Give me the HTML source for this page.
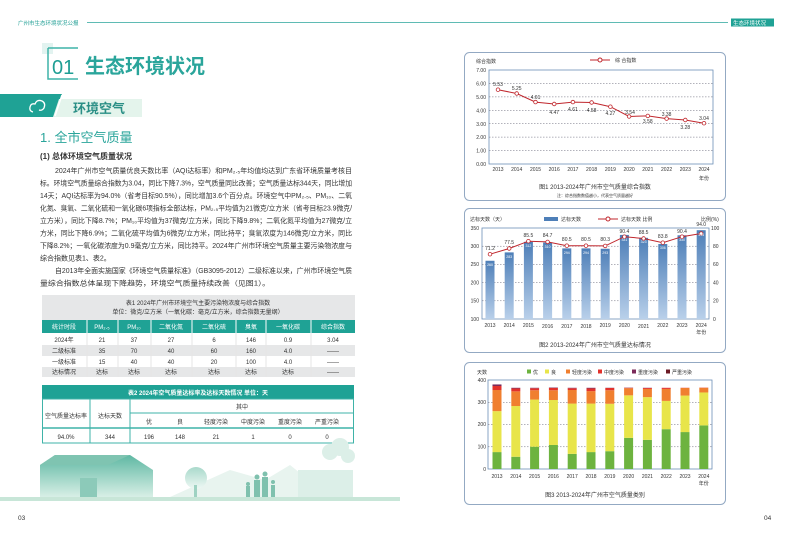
<!DOCTYPE html>
<html><head><meta charset="utf-8">
<style>
html,body{margin:0;padding:0;background:#fff;}
svg{display:block;font-family:"Liberation Sans","Noto Sans CJK SC",sans-serif;}
</style></head><body>
<svg id="s" width="793" height="538" viewBox="0 0 793 538" xmlns="http://www.w3.org/2000/svg">
<!-- header -->
<text x="18" y="25" font-size="5.5" fill="#1f9e94">广州市生态环境状况公报</text>
<line x1="87" y1="22.5" x2="728" y2="22.5" stroke="#2aa59b" stroke-width="0.8"/>
<rect x="731" y="18.5" width="43" height="8" fill="#1fa295"/>
<text x="733" y="25" font-size="5.5" fill="#fff">生态环境状况</text>

<!-- title -->
<rect x="42" y="43" width="11" height="11" fill="#e2f3f0"/>
<path d="M48 48 H78 M48 48 V79 H78" stroke="#3fb3a8" stroke-width="1.5" fill="none"/>
<text x="52" y="74" font-size="20" fill="#1f9e94">01</text>
<text x="85" y="73" font-size="20" font-weight="bold" fill="#2aa59b">生态环境状况</text>

<!-- banner -->
<polygon points="0,94 62,94 55,117 0,117" fill="#1fa295"/>
<polygon points="59,99 142,99 142,117 53,117" fill="#e4f4ec"/>
<line x1="62" y1="95" x2="55" y2="116" stroke="#fff" stroke-width="1.5"/>
<path d="M33 112 q-4 -1 -3 -5 q1 -4 5 -3 q2 -5 7 -3 q4 2 2 7 q-2 3 -5 2" stroke="#fff" stroke-width="1.3" fill="none"/>
<text x="73" y="113" font-size="13" font-weight="bold" fill="#2b8f86">环境空气</text>

<text x="40" y="142" font-size="13" fill="#2aa59b">1. 全市空气质量</text>
<text x="40" y="159" font-size="8" font-weight="bold" fill="#333">(1) 总体环境空气质量状况</text>

<g font-size="7" fill="#333">
<text x="55" y="173" textLength="297" lengthAdjust="spacingAndGlyphs">2024年广州市空气质量优良天数比率（AQI达标率）和PM₂.₅年均值均达到广东省环境质量考核目</text>
<text x="40" y="185.5" textLength="312" lengthAdjust="spacingAndGlyphs">标。环境空气质量综合指数为3.04，同比下降7.3%，空气质量同比改善；空气质量达标344天，同比增加</text>
<text x="40" y="198" textLength="312" lengthAdjust="spacingAndGlyphs">14天；AQI达标率为94.0%（省考目标90.5%），同比增加3.6个百分点。环境空气中PM₂.₅、PM₁₀、二氧</text>
<text x="40" y="210.5" textLength="312" lengthAdjust="spacingAndGlyphs">化氮、臭氧、二氧化硫和一氧化碳6项指标全部达标，PM₂.₅平均值为21微克/立方米（省考目标23.9微克/</text>
<text x="40" y="223" textLength="312" lengthAdjust="spacingAndGlyphs">立方米），同比下降8.7%；PM₁₀平均值为37微克/立方米，同比下降9.8%；二氧化氮平均值为27微克/立</text>
<text x="40" y="235.5" textLength="312" lengthAdjust="spacingAndGlyphs">方米，同比下降6.9%；二氧化硫平均值为6微克/立方米，同比持平；臭氧浓度为146微克/立方米，同比</text>
<text x="40" y="248" textLength="312" lengthAdjust="spacingAndGlyphs">下降8.2%；一氧化碳浓度为0.9毫克/立方米，同比持平。2024年广州市环境空气质量主要污染物浓度与</text>
<text x="40" y="260.5">综合指数见表1、表2。</text>
<text x="55" y="273" textLength="297" lengthAdjust="spacingAndGlyphs">自2013年全面实施国家《环境空气质量标准》（GB3095-2012）二级标准以来，广州市环境空气质</text>
<text x="40" y="285.5" textLength="230" lengthAdjust="spacingAndGlyphs">量综合指数总体呈现下降趋势，环境空气质量持续改善（见图1）。</text>
</g>

<!-- table 1 -->
<rect x="42" y="295" width="313" height="25" fill="#e6e7e8"/>
<text x="198" y="305" font-size="6" fill="#333" text-anchor="middle">表1  2024年广州市环境空气主要污染物浓度与综合指数</text>
<text x="198" y="314" font-size="6" fill="#333" text-anchor="middle">单位：微克/立方米（一氧化碳：毫克/立方米，综合指数无量纲）</text>
<rect x="42" y="320" width="313" height="13" fill="#1fa295"/>
<rect x="42" y="345" width="313" height="11" fill="#e6e7e8"/>
<rect x="42" y="367" width="313" height="10" fill="#e6e7e8"/>
<g stroke="#fff" stroke-width="1">
<line x1="87" y1="320" x2="87" y2="377"/><line x1="118" y1="320" x2="118" y2="377"/><line x1="151" y1="320" x2="151" y2="377"/><line x1="192" y1="320" x2="192" y2="377"/><line x1="236" y1="320" x2="236" y2="377"/><line x1="266" y1="320" x2="266" y2="377"/><line x1="311" y1="320" x2="311" y2="377"/>
</g>
<g stroke="#ccc" stroke-width="0.5"><line x1="87" y1="333" x2="87" y2="377"/><line x1="118" y1="333" x2="118" y2="377"/><line x1="151" y1="333" x2="151" y2="377"/><line x1="192" y1="333" x2="192" y2="377"/><line x1="236" y1="333" x2="236" y2="377"/><line x1="266" y1="333" x2="266" y2="377"/><line x1="311" y1="333" x2="311" y2="377"/></g>
<g font-size="6" text-anchor="middle" fill="#fff">
<text x="64" y="329">统计时段</text><text x="102" y="329">PM₂.₅</text><text x="134" y="329">PM₁₀</text><text x="171" y="329">二氧化氮</text><text x="214" y="329">二氧化硫</text><text x="251" y="329">臭氧</text><text x="288" y="329">一氧化碳</text><text x="333" y="329">综合指数</text>
</g>
<g font-size="6" text-anchor="middle" fill="#333">
<text x="64" y="342">2024年</text><text x="102" y="342">21</text><text x="134" y="342">37</text><text x="171" y="342">27</text><text x="214" y="342">6</text><text x="251" y="342">146</text><text x="288" y="342">0.9</text><text x="333" y="342">3.04</text>
<text x="64" y="353">二级标准</text><text x="102" y="353">35</text><text x="134" y="353">70</text><text x="171" y="353">40</text><text x="214" y="353">60</text><text x="251" y="353">160</text><text x="288" y="353">4.0</text><text x="333" y="353">——</text>
<text x="64" y="364">一级标准</text><text x="102" y="364">15</text><text x="134" y="364">40</text><text x="171" y="364">40</text><text x="214" y="364">20</text><text x="251" y="364">100</text><text x="288" y="364">4.0</text><text x="333" y="364">——</text>
<text x="64" y="374">达标情况</text><text x="102" y="374">达标</text><text x="134" y="374">达标</text><text x="171" y="374">达标</text><text x="214" y="374">达标</text><text x="251" y="374">达标</text><text x="288" y="374">达标</text><text x="333" y="374">——</text>
</g>

<!-- table 2 -->
<rect x="42" y="385" width="312" height="14" fill="#1fa295"/>
<text x="198" y="395" font-size="6" fill="#fff" text-anchor="middle" font-weight="bold">表2    2024年空气质量达标率及达标天数情况          单位：天</text>
<g stroke="#3fb3a8" stroke-width="1" fill="none">
<rect x="42.5" y="399" width="311" height="44"/>
<line x1="90" y1="399" x2="90" y2="443"/><line x1="130" y1="399" x2="130" y2="443"/>
<line x1="130" y1="413" x2="354" y2="413"/><line x1="42" y1="428" x2="354" y2="428" stroke-width="1.5"/>
</g>
<g font-size="6" text-anchor="middle" fill="#333">
<text x="66" y="418">空气质量达标率</text><text x="110" y="418">达标天数</text><text x="242" y="409">其中</text>
<text x="149" y="424">优</text><text x="180" y="424">良</text><text x="216" y="424">轻度污染</text><text x="253" y="424">中度污染</text><text x="290" y="424">重度污染</text><text x="327" y="424">严重污染</text>
<text x="66" y="439">94.0%</text><text x="110" y="439">344</text><text x="149" y="439">196</text><text x="180" y="439">148</text><text x="216" y="439">21</text><text x="253" y="439">1</text><text x="290" y="439">0</text><text x="327" y="439">0</text>
</g>

<!-- illustration -->
<defs><linearGradient id="ig" x1="0" y1="0" x2="0" y2="1"><stop offset="0" stop-color="#5fb8a3"/><stop offset="1" stop-color="#d8efe6"/></linearGradient>
<linearGradient id="ig2" x1="0" y1="0" x2="0" y2="1"><stop offset="0" stop-color="#a9d9cb"/><stop offset="1" stop-color="#eef8f4"/></linearGradient>
<linearGradient id="bg" x1="0" y1="0" x2="0" y2="1"><stop offset="0" stop-color="#4e7fb8"/><stop offset="1" stop-color="#b9d0ea"/></linearGradient></defs>
<path d="M170 497 L230 470 L265 480 L290 465 L330 497Z" fill="#e8f4ef"/>
<polygon points="40,497 40,465 55,455 130,455 153,470 153,497" fill="url(#ig)"/>
<polygon points="40,465 55,455 130,455 108,465" fill="#7fc4b1"/>
<rect x="80" y="478" width="17" height="19" fill="#8ccab9"/>
<circle cx="196" cy="478" r="11" fill="url(#ig2)"/><rect x="194" y="485" width="3" height="12" fill="#9ed2c2"/>
<g fill="#7fc1ae"><circle cx="257" cy="477" r="2.5"/><rect x="254" y="480" width="6" height="17"/><circle cx="265" cy="474" r="2.5"/><rect x="262" y="477" width="6" height="20"/><circle cx="248" cy="484" r="2"/><rect x="246" y="486" width="4" height="11"/><circle cx="273" cy="482" r="2"/><rect x="271" y="485" width="4" height="12"/></g>
<g fill="#dcefe8"><circle cx="330" cy="452" r="8"/><circle cx="340" cy="447" r="9"/><circle cx="348" cy="456" r="7"/><rect x="298" y="470" width="55" height="27"/></g>
<rect x="0" y="497" width="400" height="4" fill="#c8e6d8"/>
<text x="18" y="520" font-size="6.5" fill="#333">03</text>
<text x="764" y="520" font-size="6.5" fill="#333">04</text>

<!-- chart 1 -->
<rect x="464.5" y="52.5" width="261" height="148" rx="5" fill="#fff" stroke="#93a9c3" stroke-width="1"/>
<text x="476" y="63" font-size="5" fill="#333">综合指数</text>
<line x1="590" y1="60" x2="610" y2="60" stroke="#c0272d" stroke-width="1"/><circle cx="600" cy="60" r="2" fill="#fff" stroke="#c0272d"/>
<text x="615" y="62" font-size="5" fill="#333">综 合指数</text>
<rect x="489" y="70" width="224" height="94" fill="#fff" stroke="#6d8fb7" stroke-width="0.8"/>
<g stroke="#667" stroke-width="0.5" stroke-dasharray="1.5,1.5">
<line x1="489" y1="83.4" x2="713" y2="83.4"/><line x1="489" y1="96.9" x2="713" y2="96.9"/><line x1="489" y1="110.3" x2="713" y2="110.3"/><line x1="489" y1="123.7" x2="713" y2="123.7"/><line x1="489" y1="137.1" x2="713" y2="137.1"/><line x1="489" y1="150.6" x2="713" y2="150.6"/>
</g>
<g font-size="5" fill="#333" text-anchor="end">
<text x="486" y="72">7.00</text><text x="486" y="85.5">6.00</text><text x="486" y="99">5.00</text><text x="486" y="112.5">4.00</text><text x="486" y="126">3.00</text><text x="486" y="139">2.00</text><text x="486" y="152.5">1.00</text><text x="486" y="166">0.00</text>
</g>
<g font-size="5" fill="#333" text-anchor="middle">
<text x="498" y="171">2013</text><text x="516.7" y="171">2014</text><text x="535.5" y="171">2015</text><text x="554.2" y="171">2016</text><text x="572.9" y="171">2017</text><text x="591.6" y="171">2018</text><text x="610.4" y="171">2019</text><text x="629.1" y="171">2020</text><text x="647.8" y="171">2021</text><text x="666.6" y="171">2022</text><text x="685.3" y="171">2023</text><text x="704" y="171">2024</text>
<text x="704" y="180">年份</text>
</g>
<polyline points="498,89.7 516.7,93.5 535.5,102.1 554.2,104 572.9,102.1 591.6,102.5 610.4,106.7 629.1,116.5 647.8,115.9 666.6,118.6 685.3,120 704,123.2" fill="none" stroke="#c0272d" stroke-width="1"/>
<g fill="#fff" stroke="#c0272d" stroke-width="0.8">
<circle cx="498" cy="89.7" r="1.8"/><circle cx="516.7" cy="93.5" r="1.8"/><circle cx="535.5" cy="102.1" r="1.8"/><circle cx="554.2" cy="104" r="1.8"/><circle cx="572.9" cy="102.1" r="1.8"/><circle cx="591.6" cy="102.5" r="1.8"/><circle cx="610.4" cy="106.7" r="1.8"/><circle cx="629.1" cy="116.5" r="1.8"/><circle cx="647.8" cy="115.9" r="1.8"/><circle cx="666.6" cy="118.6" r="1.8"/><circle cx="685.3" cy="120" r="1.8"/><circle cx="704" cy="123.2" r="1.8"/>
</g>
<g font-size="5" fill="#333" text-anchor="middle">
<text x="498" y="86">5.53</text><text x="516.7" y="90">5.25</text><text x="535.5" y="99">4.61</text><text x="554.2" y="114">4.47</text><text x="572.9" y="111">4.61</text><text x="591.6" y="112">4.58</text><text x="610.4" y="115">4.27</text><text x="630" y="114">3.54</text><text x="647.8" y="123">3.58</text><text x="666.6" y="116">3.38</text><text x="685.3" y="129">3.28</text><text x="704" y="120">3.04</text>
</g>
<text x="595" y="189" font-size="6" fill="#333" text-anchor="middle">图1  2013-2024年广州市空气质量综合指数</text>
<text x="595" y="197" font-size="4" fill="#333" text-anchor="middle">注：综合指数数值越小，代表空气质量越好</text>

<!-- chart 2 -->
<rect x="464.5" y="208.5" width="261" height="144" rx="5" fill="#fff" stroke="#93a9c3" stroke-width="1"/>
<text x="470" y="221" font-size="5" fill="#333">达标天数（天）</text>
<rect x="544" y="217" width="14" height="4" fill="#4e7fb8"/><text x="561" y="221" font-size="5" fill="#333">达标天数</text>
<line x1="598" y1="219" x2="618" y2="219" stroke="#c0272d"/><circle cx="608" cy="219" r="2" fill="#fff" stroke="#c0272d"/>
<text x="621" y="221" font-size="5" fill="#333">达标天数 比例</text>
<text x="701" y="221" font-size="5" fill="#333">比例(%)</text>
<rect x="482" y="228" width="227" height="91" fill="#fff" stroke="#6d8fb7" stroke-width="0.8"/>
<g stroke="#667" stroke-width="0.5" stroke-dasharray="1.5,1.5">
<line x1="482" y1="246.2" x2="709" y2="246.2"/><line x1="482" y1="264.4" x2="709" y2="264.4"/><line x1="482" y1="282.6" x2="709" y2="282.6"/><line x1="482" y1="300.8" x2="709" y2="300.8"/>
</g>
<g id="bars2"></g>
<polyline points="490,254.2 509.2,248.5 528.4,241.2 547.6,241.9 566.8,245.7 586,245.7 605.2,245.9 624.4,236.7 643.6,238.5 662.8,242.7 682,236.7 701.2,233.5" fill="none" stroke="#c0272d" stroke-width="1"/>
<g fill="#fff" stroke="#c0272d" stroke-width="0.8">
<circle cx="490" cy="254.2" r="1.8"/><circle cx="509.2" cy="248.5" r="1.8"/><circle cx="528.4" cy="241.2" r="1.8"/><circle cx="547.6" cy="241.9" r="1.8"/><circle cx="566.8" cy="245.7" r="1.8"/><circle cx="586" cy="245.7" r="1.8"/><circle cx="605.2" cy="245.9" r="1.8"/><circle cx="624.4" cy="236.7" r="1.8"/><circle cx="643.6" cy="238.5" r="1.8"/><circle cx="662.8" cy="242.7" r="1.8"/><circle cx="682" cy="236.7" r="1.8"/><circle cx="701.2" cy="233.5" r="1.8"/>
</g>
<g font-size="5" fill="#333" text-anchor="middle">
<text x="490" y="250">71.2</text><text x="509.2" y="244">77.5</text><text x="528.4" y="237">85.5</text><text x="547.6" y="237">84.7</text><text x="566.8" y="241">80.5</text><text x="586" y="241">80.5</text><text x="605.2" y="241">80.3</text><text x="624.4" y="233">90.4</text><text x="643.6" y="234">88.5</text><text x="662.8" y="238">83.8</text><text x="682" y="233">90.4</text><text x="701.2" y="226">94.0</text>
</g>
<g font-size="3.5" fill="#fff" text-anchor="middle">
<text x="490" y="266">260</text><text x="509.2" y="258">283</text><text x="528.4" y="247">312</text><text x="547.6" y="248">310</text><text x="566.8" y="254">294</text><text x="586" y="254">294</text><text x="605.2" y="254">293</text><text x="624.4" y="241">331</text><text x="643.6" y="243">323</text><text x="662.8" y="249">306</text><text x="682" y="241">330</text><text x="701.2" y="236">344</text>
</g>
<g font-size="5" fill="#333" text-anchor="end">
<text x="479" y="230">350</text><text x="479" y="248">300</text><text x="479" y="266">250</text><text x="479" y="284.5">200</text><text x="479" y="302.5">150</text><text x="479" y="321">100</text>
</g>
<g font-size="5" fill="#333">
<text x="711" y="230">100</text><text x="713" y="248">80</text><text x="713" y="266">60</text><text x="713" y="284.5">40</text><text x="713" y="302.5">20</text><text x="713" y="321">0</text>
</g>
<g font-size="5" fill="#333" text-anchor="middle">
<text x="490" y="327">2013</text><text x="509.2" y="327">2014</text><text x="528.4" y="327">2015</text><text x="547.6" y="328">2016</text><text x="566.8" y="328">2017</text><text x="586" y="328">2018</text><text x="605.2" y="327">2019</text><text x="624.4" y="327">2020</text><text x="643.6" y="328">2021</text><text x="662.8" y="327">2022</text><text x="682" y="327">2023</text><text x="701.2" y="327">2024</text>
<text x="701.2" y="334">年份</text>
</g>
<text x="595" y="347" font-size="6" fill="#333" text-anchor="middle">图2   2013-2024年广州市空气质量达标情况</text>

<!-- chart 3 -->
<rect x="464.5" y="362.5" width="261" height="142" rx="5" fill="#fff" stroke="#93a9c3" stroke-width="1"/>
<text x="477" y="374" font-size="5" fill="#333">天数</text>
<g font-size="5" fill="#333">
<rect x="527" y="369.5" width="4" height="4" fill="#6db33f"/><text x="533" y="374">优</text>
<rect x="545" y="369.5" width="4" height="4" fill="#e8e54a"/><text x="551" y="374">良</text>
<rect x="566" y="369.5" width="4" height="4" fill="#f07f2f"/><text x="572" y="374">轻度污染</text>
<rect x="598" y="369.5" width="4" height="4" fill="#e2312b"/><text x="604" y="374">中度污染</text>
<rect x="632" y="369.5" width="4" height="4" fill="#7b2a5a"/><text x="638" y="374">重度污染</text>
<rect x="666" y="369.5" width="4" height="4" fill="#6b1a24"/><text x="672" y="374">严重污染</text>
</g>
<rect x="488" y="380" width="224" height="89" fill="#fff" stroke="#6d8fb7" stroke-width="0.8"/>
<g stroke="#667" stroke-width="0.5" stroke-dasharray="1.5,1.5">
<line x1="488" y1="402.3" x2="712" y2="402.3"/><line x1="488" y1="424.5" x2="712" y2="424.5"/><line x1="488" y1="446.8" x2="712" y2="446.8"/>
</g>
<g id="bars3"></g>
<g font-size="5" fill="#333" text-anchor="end">
<text x="486" y="382">400</text><text x="486" y="404">300</text><text x="486" y="426">200</text><text x="486" y="448.5">100</text><text x="486" y="471">0</text>
</g>
<g font-size="5" fill="#333" text-anchor="middle">
<text x="497" y="478">2013</text><text x="515.8" y="478">2014</text><text x="534.6" y="478">2015</text><text x="553.4" y="478">2016</text><text x="572.2" y="478">2017</text><text x="591" y="478">2018</text><text x="609.8" y="478">2019</text><text x="628.6" y="478">2020</text><text x="647.4" y="478">2021</text><text x="666.2" y="478">2022</text><text x="685" y="478">2023</text><text x="703.8" y="478">2024</text>
<text x="703.8" y="485">年份</text>
</g>
<text x="595" y="497" font-size="6" fill="#333" text-anchor="middle">图3    2013-2024年广州市空气质量类别</text>
</svg>
<script>
var NS="http://www.w3.org/2000/svg";
function R(g,x,y,w,h,f){var r=document.createElementNS(NS,"rect");r.setAttribute("x",x);r.setAttribute("y",y);r.setAttribute("width",w);r.setAttribute("height",h);r.setAttribute("fill",f);g.appendChild(r);}
var d2=[260,283,312,310,294,294,293,331,323,306,330,344],g2=document.getElementById("bars2");
d2.forEach(function(v,i){var x=490+i*19.2,t=319-(v-100)*0.364;R(g2,x-4.5,t,9,319-t,"url(#bg)");});
var d3=[[76,184,95,18,7,0],[55,228,66,13,3,0],[100,212,42,9,2,0],[108,202,44,10,2,0],[68,226,61,8,2,0],[76,218,56,12,3,0],[80,213,61,10,1,0],[140,191,32,2,1,0],[131,192,37,4,1,0],[179,127,54,5,0,0],[166,164,34,1,0,0],[196,148,21,1,0,0]];
var cols=["#6db33f","#e8e54a","#f07f2f","#e2312b","#7b2a5a","#6b1a24"],g3=document.getElementById("bars3");
d3.forEach(function(a,i){var x=497+i*18.8,c=0;a.forEach(function(v,j){if(!v)return;var y1=469-(c+v)*0.2225;R(g3,x-4.5,y1,9,v*0.2225,cols[j]);c+=v;});});
</script>
</body></html>
